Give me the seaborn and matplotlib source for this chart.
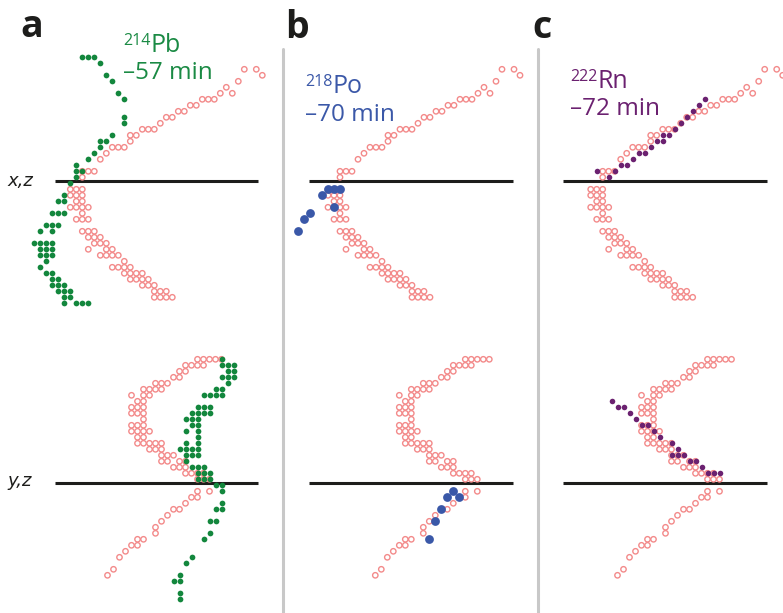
import matplotlib
matplotlib.use("Agg")
import matplotlib.pyplot as plt
from matplotlib.lines import Line2D
import pandas as pd
import seaborn as sns

# ---------------------------------------------------------------------------
# Pixelated alpha-particle track (detector cells), x,z projection.
# Each z row lists the occupied x cells.
track_xz_z = [18, 17, 16, 15, 14, 13, 12, 11, 10, 9, 8, 7, 6, 5, 4, 3, 1, 0,
              -2, -3, -4, -5, -6, -7, -9, -10, -11, -12, -13, -14, -15, -16,
              -17, -18, -19, -20]
track_xz_x = [[27, 29], [30], [26], [24], [23, 25], [20, 21, 22], [18, 19],
              [16, 17], [14, 15], [13], [10, 11, 12], [8, 9], [8], [5, 6, 7],
              [4], [3], [0, 1, 2], [0], [-2, -1, 0], [-2, -1, 0], [-1, 0],
              [-2, -1, 0, 1], [0], [-1, 0, 1], [0, 1, 2], [1, 2, 3], [2, 3, 4],
              [1, 4, 5], [3, 4, 5, 6], [7], [5, 6, 7, 8], [7, 8, 9, 10],
              [8, 9, 10, 11], [10, 11, 12], [12, 13, 14], [12, 13, 14, 15]]

# Same track, y,z projection
track_yz_z = [20, 19, 18, 17, 16, 15, 14, 13, 12, 11, 10, 9, 8, 7, 6, 5, 4, 3,
              2, 1, 0, -2, -3, -4, -5, -6, -7, -8, -9, -10, -11, -12, -13,
              -15, -16]
track_yz_y = [[21, 22, 23, 24, 25], [19, 20, 21, 22], [18, 19], [17, 18],
              [14, 15, 16], [12, 13, 14, 15], [10, 12, 13], [11, 12],
              [10, 11, 12], [10, 11, 12], [12], [10, 11, 12], [10, 11, 12, 13],
              [11, 12], [11, 12, 13, 14, 15], [13, 14, 15], [15, 16, 17],
              [15, 16, 18, 19], [17, 18, 19], [19, 20, 21, 22], [21, 22, 23],
              [21, 23], [20, 21], [19], [17, 18], [16], [15], [14], [14],
              [11, 12], [10, 11], [9], [8], [7], [6]]

# 214Pb decay cells
pb_xz_z = [20, 19, 17, 16, 14, 13, 10, 9, 7, 6, 5, 4, 3, 2, 1, 0, -1, -3, -4,
           -6, -8, -9, -11, -12, -13, -14, -15, -16, -17, -18, -19, -20, -21]
pb_xz_x = [[0, 1, 2], [3], [4], [5], [6], [7], [7], [7], [5], [3, 4], [3],
           [2], [1], [-1], [-1, 0], [-1], [-2], [-3], [-4, -3], [-5, -4, -3],
           [-6, -5, -4], [-7, -5], [-8, -7, -6, -5], [-7, -6, -5],
           [-7, -6, -5], [-6], [-7], [-6, -5], [-5, -4], [-5, -4, -3],
           [-4, -3, -2], [-3, -2], [-3, -1, 0, 1]]
pb_yz_z = [20, 19, 18, 17, 16, 15, 14, 12, 11, 10, 9, 8, 7, 6, 5, 4, 3, 2, 1,
           0, -1, -2, -4, -5, -7, -9, -10, -13, -14, -16, -17, -19, -20]
pb_yz_y = [[25], [25, 26, 27], [26, 27], [25, 26, 27], [26], [24, 25],
           [22, 23, 24, 25], [21, 22, 23], [20, 21, 22, 23], [19, 20, 21],
           [20, 21], [19, 21], [21], [19, 21], [18, 19, 20, 21], [19, 20, 21],
           [19], [20, 21, 22], [21, 22, 23], [21, 22, 23], [24, 25], [25],
           [25], [24, 25], [23, 24], [23], [22], [20], [19], [18], [17, 18],
           [18], [18]]

# 218Po decay cells
po_xz_x = [-2, -1, 0, -3, -1, -5, -6, -7]
po_xz_z = [-2, -2, -2, -3, -5, -6, -7, -9]
po_yz_y = [19, 18, 20, 17, 16, 15]
po_yz_z = [-2, -3, -3, -5, -7, -10]

# 222Rn decay cells
rn_xz_x = [17, 16, 15, 14, 13, 12, 10, 11, 9, 10, 8, 6, 7, 5, 3, 4, 2, -1, 1]
rn_xz_z = [13, 12, 11, 10, 9, 8, 7, 7, 6, 6, 5, 4, 4, 3, 2, 2, 1, 1, 0]
rn_yz_y = [5, 6, 7, 8, 9, 10, 11, 12, 13, 15, 16, 15, 16, 17, 18, 19, 20, 21,
           22, 23]
rn_yz_z = [13, 12, 12, 11, 10, 9, 9, 8, 7, 6, 5, 4, 4, 4, 3, 3, 2, 1, 1, 1]

panel_letters = ["a", "b", "c"]
isotopes = ["214", "218", "222"]
elements = ["Pb", "Po", "Rn"]
times = ["\u201357 min", "\u201370 min", "\u201372 min"]
projection_labels = ["x,z", "y,z"]


def expand(rows, cols):
    """Turn row -> list-of-columns into a flat table of cells."""
    h = [c for r, cs in zip(rows, cols) for c in cs]
    v = [r for r, cs in zip(rows, cols) for _ in cs]
    return pd.DataFrame({"h": h, "v": v})


track_xz = expand(track_xz_z, track_xz_x)
track_yz = expand(track_yz_z, track_yz_y)
decays = {
    "a": (expand(pb_xz_z, pb_xz_x), expand(pb_yz_z, pb_yz_y)),
    "b": (pd.DataFrame({"h": po_xz_x, "v": po_xz_z}),
          pd.DataFrame({"h": po_yz_y, "v": po_yz_z})),
    "c": (pd.DataFrame({"h": rn_xz_x, "v": rn_xz_z}),
          pd.DataFrame({"h": rn_yz_y, "v": rn_yz_z})),
}

# ---------------------------------------------------------------------------
sns.set_style("white")
plt.rcParams["font.family"] = ["Open Sans", "DejaVu Sans"]

W, H = 783, 613
CELL = 6.0                      # pixels per detector cell
fig = plt.figure(figsize=(W / 100, H / 100), dpi=100)

PINK = "#f38a8a"
DOT_COLORS = {"a": "#13873d", "b": "#3a58a8", "c": "#6b2170"}
TEXT_COLORS = {"a": "#1a8a44", "b": "#3b58a8", "c": "#6b2170"}
DOT_SIZES = {"a": 17, "b": 40, "c": 16}

col_bounds = {"a": (0, 281), "b": (285, 536), "c": (540, 783)}
row_bounds = [(0, 322), (322, 613)]
# pixel position of the cell origin for each panel
origin_x = {"a": (82.3, 71.5), "b": (340.0, 339.3), "c": (602.7, 581.5)}
origin_y = (177.3, 479.3)
baseline_y = (181.3, 483.0)
baseline_x = {"a": (55, 258), "b": (309.3, 512.7), "c": (563.3, 766.7)}


def make_axes(L, R, T, B, ox, oy):
    ax = fig.add_axes([L / W, 1 - B / H, (R - L) / W, (B - T) / H])
    ax.set_xlim((L - ox) / CELL, (R - ox) / CELL)
    ax.set_ylim((oy - B) / CELL, (oy - T) / CELL)
    ax.set_axis_off()
    return ax


for key in panel_letters:
    L, R = col_bounds[key]
    for r, (T, B) in enumerate(row_bounds):
        ox, oy = origin_x[key][r], origin_y[r]
        ax = make_axes(L, R, T, B, ox, oy)
        x0, x1 = baseline_x[key]
        ax.hlines((oy - baseline_y[r]) / CELL, (x0 - ox) / CELL, (x1 - ox) / CELL,
                  color="#1d1d1b", lw=2.2, zorder=1)
        track = track_xz if r == 0 else track_yz
        sns.scatterplot(data=track, x="h", y="v", ax=ax,
                        facecolor="none", edgecolor=PINK, linewidth=1.0,
                        s=15, marker="o", zorder=2, legend=False)
        sns.scatterplot(data=decays[key][r], x="h", y="v", ax=ax,
                        color=DOT_COLORS[key], linewidth=0, s=DOT_SIZES[key],
                        marker="o", zorder=3, legend=False)

# separators between columns
for xs in (283.3, 538.3):
    fig.add_artist(Line2D([xs / W, xs / W], [1 - 49 / H, 0], color="#c8c8c8",
                          lw=2.2, transform=fig.transFigure))

# panel letters
for key, (x, y) in zip(panel_letters, [(20, 37), (285, 38), (532, 38)]):
    fig.text(x / W, 1 - y / H, key, fontsize=27, fontweight="bold",
             color="#1d1d1b", va="baseline", ha="left")

# projection labels
for lab, y in zip(projection_labels, (186, 486)):
    fig.text(7 / W, 1 - y / H, lab, fontsize=13, fontstyle="italic",
             family=["DejaVu Sans"], color="#1d1d1b", va="baseline", ha="left")

# isotope labels
iso_pos = {"a": (123, 52, 79), "b": (305, 93, 121), "c": (570, 88, 115)}
for key, iso, el, t in zip(panel_letters, isotopes, elements, times):
    x, yb1, yb2 = iso_pos[key]
    c = TEXT_COLORS[key]
    t1 = fig.text(x / W, 1 - (yb1 - 7) / H, iso, fontsize=11.5, color=c,
                  va="baseline", ha="left")
    fig.canvas.draw()
    bb = t1.get_window_extent()
    fig.text((bb.x1 + 0.5) / W, 1 - yb1 / H, el, fontsize=18, color=c,
             va="baseline", ha="left")
    fig.text(x / W, 1 - yb2 / H, t, fontsize=17.5, color=c, va="baseline",
             ha="left")

fig.savefig("out.png", dpi=100)
